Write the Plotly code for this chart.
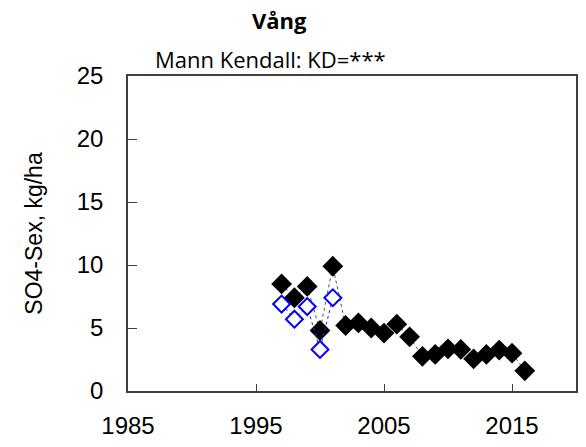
import plotly.graph_objects as go

years_all = [1997, 1998, 1999, 2000, 2001, 2002, 2003, 2004, 2005, 2006,
             2007, 2008, 2009, 2010, 2011, 2012, 2013, 2014, 2015, 2016]
so4_all = [8.5, 7.4, 8.3, 4.8, 9.9, 5.2, 5.4, 5.0, 4.6, 5.3,
           4.3, 2.75, 2.9, 3.35, 3.3, 2.55, 2.9, 3.25, 3.0, 1.6]
years_blue = [1997, 1998, 1999, 2000, 2001]
so4_blue = [6.9, 5.7, 6.7, 3.3, 7.4]

x_ticks = [1985, 1995, 2005, 2015]
y_ticks = [0, 5, 10, 15, 20, 25]

title = "Vång"
subtitle = "Mann Kendall: KD=***"
y_title = "SO4-Sex, kg/ha"

W, H = 586, 447
L, R, T, B = 128, 8, 76, 50

fig = go.Figure()
fig.add_trace(go.Scatter(
    x=years_all, y=so4_all, mode="lines+markers",
    line=dict(color="#555555", width=1, dash="dot"),
    marker=dict(symbol="diamond", size=16, color="black", line=dict(width=0)),
    showlegend=False,
))
fig.add_trace(go.Scatter(
    x=years_blue, y=so4_blue, mode="lines+markers",
    line=dict(color="#2020ff", width=1, dash="dot"),
    marker=dict(symbol="diamond", size=13, color="white",
                line=dict(color="#0000ff", width=2)),
    showlegend=False,
))

axis_font = dict(family="Liberation Sans, Arial", size=24, color="black")

fig.update_layout(
    width=W, height=H,
    margin=dict(l=L, r=R, t=T, b=B),
    paper_bgcolor="white", plot_bgcolor="white",
    xaxis=dict(
        range=[1985, 2020], tickvals=x_ticks, ticktext=[str(v) for v in x_ticks],
        ticks="inside", ticklen=7, tickwidth=1, tickcolor="#404040",
        showline=True, linecolor="#404040", linewidth=1.5, mirror=True,
        showgrid=False, zeroline=False, tickfont=axis_font,
        ticklabelstandoff=12,
    ),
    yaxis=dict(
        range=[0, 25], tickvals=y_ticks,
        ticks="inside", ticklen=9, tickwidth=1, tickcolor="#404040",
        showline=True, linecolor="#404040", linewidth=1.5, mirror=True,
        showgrid=False, zeroline=False, tickfont=axis_font,
        ticklabelstandoff=18,
        title=dict(text=y_title, font=dict(family="Liberation Sans, Arial", size=23, color="black"),
                   standoff=28),
    ),
    annotations=[
        dict(text="<b>" + title + "</b>", xref="paper", yref="paper",
             x=(280 - L) / (W - L - R), y=(397 - 19) / (H - T - B),
             xanchor="center", yanchor="middle", showarrow=False,
             font=dict(family="Open Sans", size=22, color="black")),
        dict(text=subtitle, xref="paper", yref="paper",
             x=(271 - L) / (W - L - R), y=(397 - 59) / (H - T - B),
             xanchor="center", yanchor="middle", showarrow=False,
             font=dict(family="Open Sans", size=22, color="black")),
    ],
)

fig.write_html("out.html")
